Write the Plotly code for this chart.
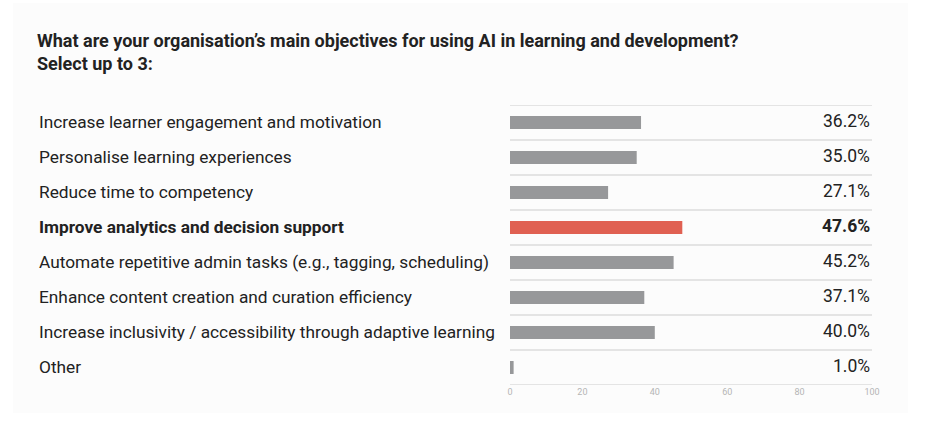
import plotly.graph_objects as go

categories = [
    "Increase learner engagement and motivation",
    "Personalise learning experiences",
    "Reduce time to competency",
    "Improve analytics and decision support",
    "Automate repetitive admin tasks (e.g., tagging, scheduling)",
    "Enhance content creation and curation efficiency",
    "Increase inclusivity / accessibility through adaptive learning",
    "Other",
]
values = [36.2, 35.0, 27.1, 47.6, 45.2, 37.1, 40.0, 1.0]
highlight = "Improve analytics and decision support"
x_ticks = [0, 20, 40, 60, 80, 100]

W, H = 948, 423
L, R, T, B = 510, 948 - 872, 105, 423 - 385
PW, PH = W - L - R, H - T - B

colors = ["#e06052" if c == highlight else "#97989a" for c in categories]

fig = go.Figure()
fig.add_trace(go.Bar(
    x=values, y=categories, orientation="h",
    marker=dict(color=colors, line=dict(width=0)),
    width=0.37, hoverinfo="x+y",
))

shapes = [dict(type="rect", xref="paper", yref="paper",
               x0=-(L - 13) / PW, x1=1 + (908 - 872) / PW,
               y0=-(413 - 385) / PH, y1=1 + (105 - 3) / PH,
               fillcolor="#fcfcfc", line=dict(width=0), layer="below")]
for i in range(len(categories) + 1):
    shapes.append(dict(type="line", xref="x", yref="y", x0=0, x1=100,
                       y0=i - 0.5, y1=i - 0.5,
                       line=dict(color="#dcdcdc", width=1.5), layer="below"))

annotations = []
for c, v in zip(categories, values):
    bold = c == highlight
    annotations.append(dict(
        xref="paper", yref="y", x=-(L - 37) / PW, y=c, yshift=1,
        text=f"<b>{c}</b>" if bold else c, showarrow=False,
        xanchor="left", yanchor="middle",
        font=dict(family="Roboto", size=17.3, color="#222222"),
    ))
    annotations.append(dict(
        xref="x", yref="y", x=100, y=c, yshift=2,
        text=f"<b>{v:.1f}%</b>" if bold else f"{v:.1f}%", showarrow=False,
        xanchor="right", yanchor="middle",
        font=dict(family="Roboto", size=17.5, color="#222222"),
    ))

annotations.append(dict(
    xref="paper", yref="paper", x=-(L - 35) / PW, y=1 + (105 - 28) / PH,
    text="<b>What are your organisation’s main objectives for using AI in learning and development?</b><br><b>Select up to 3:</b>",
    showarrow=False, xanchor="left", yanchor="top", align="left",
    font=dict(family="Roboto", size=18, color="#222222"),
))

fig.update_layout(
    width=W, height=H,
    margin=dict(l=L, r=R, t=T, b=B, pad=0),
    paper_bgcolor="white", plot_bgcolor="rgba(0,0,0,0)",
    showlegend=False, bargap=0.6,
    shapes=shapes, annotations=annotations,
    xaxis=dict(range=[0, 100], tickvals=x_ticks, showgrid=False, zeroline=False,
               showline=False, ticks="", tickfont=dict(family="Roboto", size=9, color="#b5b5b5"),
               fixedrange=True),
    yaxis=dict(range=[len(categories) - 0.5, -0.5], showticklabels=False, showgrid=False,
               zeroline=False, showline=False, ticks="", fixedrange=True,
               categoryorder="array", categoryarray=categories),
)

fig.write_html("out.html")
